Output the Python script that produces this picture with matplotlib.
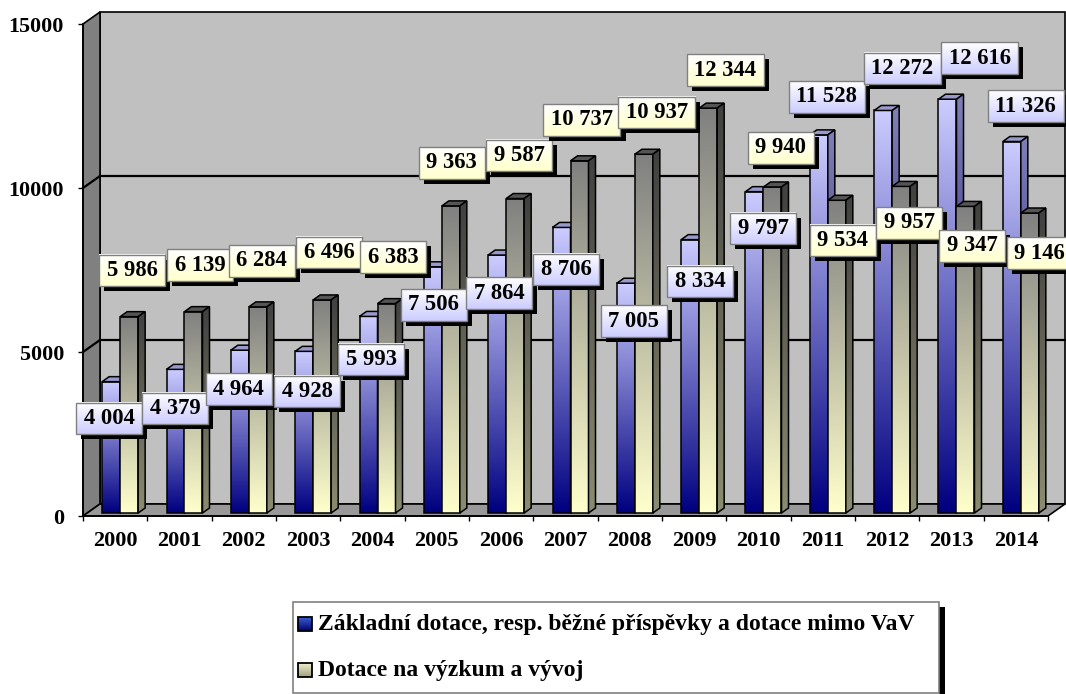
import numpy as np
import matplotlib
matplotlib.use("Agg")
import matplotlib.pyplot as plt
from matplotlib.patches import Polygon, Rectangle
from matplotlib.colors import to_rgb

# ---------------- data ----------------
years = ["2000", "2001", "2002", "2003", "2004", "2005", "2006", "2007",
         "2008", "2009", "2010", "2011", "2012", "2013", "2014"]
zakladni = [4004, 4379, 4964, 4928, 5993, 7506, 7864, 8706, 7005, 8334,
            9797, 11528, 12272, 12616, 11326]
vyzkum = [5986, 6139, 6284, 6496, 6383, 9363, 9587, 10737, 10937, 12344,
          9940, 9534, 9957, 9347, 9146]
series_names = ["Základní dotace, resp. běžné příspěvky a dotace mimo VaV",
                "Dotace na výzkum a vývoj"]
y_ticks = [0, 5000, 10000, 15000]
y_ticklabels = ["0", "5000", "10000", "15000"]

# label placement (pixel offsets right / down from category centre at value)
blue_label_off = [(-6, 34), (-4.5, 36), (-5, 36), (-1, 37), (-1.5, 40), (-3, 35), (-2, 35),
                  (0.5, 39), (4, 35), (6, 39), (4.5, 34), (4, -41), (15, -45), (28.5, -44),
                  (10, -38.5)]
yell_label_off = [(17, -49), (20.5, -49.5), (18, -49), (21, -50.5), (20.5, -49.5), (15, -46),
                  (18, -46), (16.5, -44), (27, -45), (31, -41), (22.5, -42), (20, 37),
                  (22, 33.5), (20.5, 36.5), (24, 37)]

plt.rcParams["font.family"] = ["Liberation Serif", "DejaVu Serif"]
plt.rcParams["font.weight"] = "bold"


def fmt(v):
    return f"{v:,}".replace(",", " ")


def vgrad(top, bot, n=128):
    t = np.linspace(0, 1, n)[:, None]
    b = np.array(to_rgb(bot))
    tp = np.array(to_rgb(top))
    return (b + (tp - b) * t)[:, None, :]


W, H = 1066, 694
fig = plt.figure(figsize=(W / 100, H / 100), dpi=100)
X0, X1, YB, YT = 83, 1048, 516, 24
ax = fig.add_axes([X0 / W, 1 - YB / H, (X1 - X0) / W, (YB - YT) / H])
n = len(years)
ax.set_xlim(-0.5, n - 0.5)
ax.set_ylim(0, 15000)
ax.set_autoscale_on(False)
ax.patch.set_visible(False)

PX = n / (X1 - X0)          # category units per pixel
PY = 15000 / (YB - YT)      # value units per pixel

# ---------- walls & floor ----------
WDX, WDY = 17 * PX, 12 * PY
xl, xr = -0.5, n - 0.5
ax.add_patch(Rectangle((xl + WDX, WDY), n, 15000, fc="#c0c0c0", ec="black", lw=1.2,
                       zorder=1, clip_on=False))
ax.add_patch(Polygon([(xl, 0), (xl, 15000), (xl + WDX, 15000 + WDY), (xl + WDX, WDY)],
                     closed=True, fc="#808080", ec="black", lw=1.2, zorder=1.2, clip_on=False))
ax.add_patch(Polygon([(xl, 0), (xr, 0), (xr + WDX, WDY), (xl + WDX, WDY)],
                     closed=True, fc="#999999", ec="black", lw=1.2, zorder=1.2, clip_on=False))
for g in y_ticks[1:-1]:
    ax.plot([xl + WDX, xr + WDX], [g + WDY, g + WDY], color="black", lw=1.6, zorder=1.5,
            clip_on=False)
    ax.plot([xl, xl + WDX], [g, g + WDY], color="black", lw=1.6, zorder=1.5, clip_on=False)

# ---------- bars ----------
BW = 18 * PX
BL = -13 * PX
LIFT = 3 * PY
DDX, DDY = 7 * PX, 5 * PY

styles = [
    dict(front=("#ccccff", "#000080"), top="#9999cc", side=("#8080b8", "#000060")),
    dict(front=("#808080", "#ffffcc"), top="#555555", side=("#404040", "#8c8c70")),
]

z = 10.0


def draw_bar(x0, v, st):
    global z
    t = v + LIFT
    im = ax.imshow(vgrad(*st["front"]), extent=(x0, x0 + BW, LIFT, t), origin="lower",
                   aspect="auto", interpolation="bilinear", zorder=z)
    im.set_clip_on(False)
    ax.add_patch(Rectangle((x0, LIFT), BW, v, fill=False, ec="black", lw=1.1, zorder=z + 0.1,
                           clip_on=False))
    ax.add_patch(Polygon([(x0, t), (x0 + BW, t), (x0 + BW + DDX, t + DDY), (x0 + DDX, t + DDY)],
                         closed=True, fc=st["top"], ec="black", lw=1.1, zorder=z + 0.2,
                         clip_on=False))
    side = Polygon([(x0 + BW, LIFT), (x0 + BW, t), (x0 + BW + DDX, t + DDY),
                    (x0 + BW + DDX, LIFT + DDY)], closed=True, fill=False, ec="black",
                   lw=1.1, zorder=z + 0.4, clip_on=False)
    ax.add_patch(side)
    ims = ax.imshow(vgrad(*st["side"]), extent=(x0 + BW, x0 + BW + DDX, LIFT, t + DDY),
                    origin="lower", aspect="auto", interpolation="bilinear", zorder=z + 0.3)
    ims.set_clip_path(side)
    z += 1


for i in range(n):
    draw_bar(i + BL, zakladni[i], styles[0])
    draw_bar(i + BL + BW, vyzkum[i], styles[1])

ax.set_xlim(-0.5, n - 0.5)
ax.set_ylim(0, 15000)

# ---------- axes / ticks ----------
for s in ["top", "right"]:
    ax.spines[s].set_visible(False)
for s in ["left", "bottom"]:
    ax.spines[s].set_color("black")
    ax.spines[s].set_linewidth(1.2)
    ax.spines[s].set_zorder(3)
ax.set_yticks(y_ticks)
ax.set_yticklabels(y_ticklabels)
ax.tick_params(axis="y", length=3.6, width=1, pad=10, labelsize=15.8)
ax.set_xticks(np.arange(-0.5, n, 1))
ax.set_xticklabels([])
ax.set_xticks(np.arange(n), minor=True)
ax.set_xticklabels(years, minor=True)
ax.tick_params(axis="x", which="major", length=3.6, width=1)
ax.tick_params(axis="x", which="minor", length=0, pad=10.5, labelsize=16)

# ---------- data labels ----------
label_style = [("#ffffff", "#ccccff"), ("#ffffff", "#ffffcc")]
texts = []
for i in range(n):
    for k, (vals, offs) in enumerate([(zakladni, blue_label_off), (vyzkum, yell_label_off)]):
        dx, dy = offs[i]
        t = ax.annotate(fmt(vals[i]), xy=(i, vals[i]), xytext=(dx, -dy),
                        textcoords="offset pixels", ha="center", va="center",
                        fontsize=16.3, fontweight="bold", color="black",
                        annotation_clip=False)
        texts.append((t, k, i, vals[i], dx, dy))

fig.canvas.draw()
r = fig.canvas.get_renderer()
inv = ax.transData.inverted()
zl = 300
for (t, k, i, v, dx, dy) in texts:
    bb = t.get_window_extent(r)
    cx, cy = ax.transData.transform((i, v))
    cx += dx
    cy -= dy
    bw = bb.width + 15
    bh = 31.5
    (a0, b0) = inv.transform((cx - bw / 2, cy - bh / 2))
    (a1, b1) = inv.transform((cx + bw / 2, cy + bh / 2))
    (s0, t0) = inv.transform((cx - bw / 2 + 5, cy - bh / 2 - 5))
    ax.add_patch(Rectangle((s0, t0), a1 - a0, b1 - b0, fc="black", ec="none",
                           zorder=zl, clip_on=False))
    im = ax.imshow(vgrad(*label_style[k]), extent=(a0, a1, b0, b1), origin="lower",
                   aspect="auto", interpolation="bilinear", zorder=zl + 1)
    im.set_clip_on(False)
    ax.add_patch(Rectangle((a0, b0), a1 - a0, b1 - b0, fill=False, ec="#808080", lw=1,
                           zorder=zl + 2, clip_on=False))
    t.set_zorder(zl + 3)
    zl += 4

ax.set_xlim(-0.5, n - 0.5)
ax.set_ylim(0, 15000)

# ---------- legend ----------
lax = fig.add_axes([0, 0, 1, 1])
lax.set_xlim(0, W)
lax.set_ylim(H, 0)
lax.axis("off")
lax.add_patch(Rectangle((939, 607), 6, 90, fc="black", ec="none", zorder=1))
lax.add_patch(Rectangle((293, 602), 646, 91, fc="white", ec="#808080", lw=1.2, zorder=2))
marker_cols = [("#3a5fd0", "#000070"), ("#f0f0d0", "#a0a080")]
rows_y = [624, 670]
ltexts = []
for k in range(2):
    top, bot = marker_cols[k]
    y = rows_y[k]
    im = lax.imshow(vgrad(bot, top), extent=(298, 312, y + 7, y - 7), aspect="auto",
                    interpolation="bilinear", zorder=3)
    lax.add_patch(Rectangle((298, y - 7), 14, 14, fill=False, ec="black", lw=1.3, zorder=4))
    tt = lax.text(318, y + 6, series_names[k], fontsize=16, fontweight="bold",
                  ha="left", va="baseline", zorder=5)
    ltexts.append(tt)
lax.set_xlim(0, W)
lax.set_ylim(H, 0)
fig.canvas.draw()
wref = ltexts[0].get_window_extent(fig.canvas.get_renderer()).width
fs = 16 * 597 / wref
for tt in ltexts:
    tt.set_fontsize(fs)

fig.savefig("out.png", dpi=100)
